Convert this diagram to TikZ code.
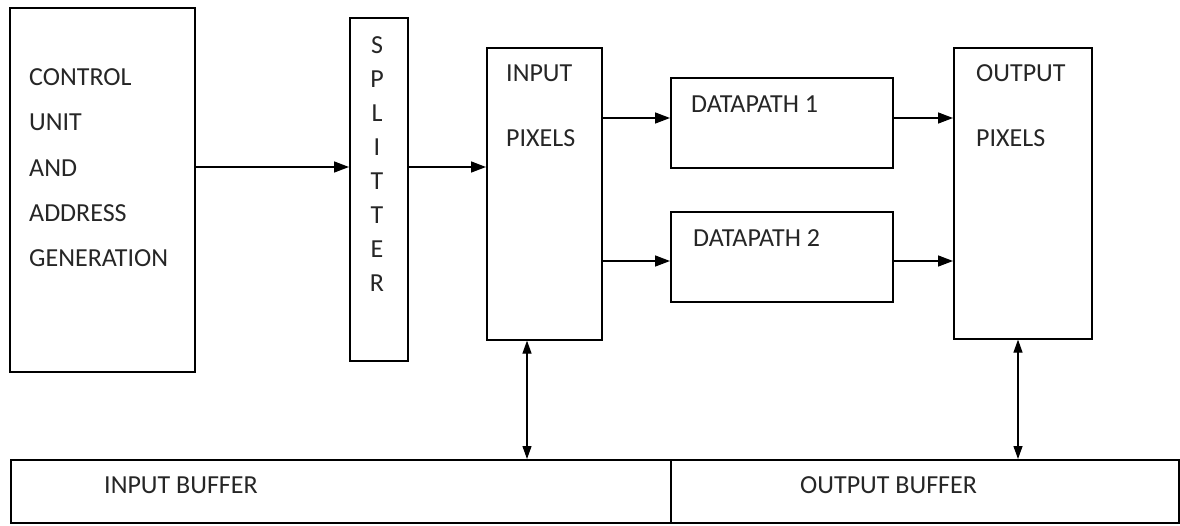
\documentclass[tikz,border=0pt]{standalone}
\usepackage{fontspec}
\setmainfont{Carlito}
\usetikzlibrary{arrows.meta}

\tikzset{
  box/.style={draw, line width=1.6pt, anchor=north west, inner sep=0pt},
  lbl/.style={anchor=west, inner sep=0pt, text=black!85, font=\fontsize{26}{30}\selectfont},
  arr/.style={line width=1.5pt, -{Triangle[length=15pt,width=11pt]}},
  biarr/.style={line width=1.2pt, {Triangle[length=13pt,width=9pt]}-{Triangle[length=13pt,width=9pt]}},
}

\begin{document}
\begin{tikzpicture}[x=1pt, y=-1pt]
\useasboundingbox[fill=white] (0,0) rectangle (1180,525);

% blocks
\node[box, minimum width=185, minimum height=364] (ctrl) at (9,7) {};
\node[box, minimum width=58, minimum height=343] (split) at (349,17) {};
\node[box, minimum width=115, minimum height=292] (inpix) at (486,47) {};
\node[box, minimum width=222, minimum height=90] (dp1) at (670,77) {};
\node[box, minimum width=222, minimum height=90] (dp2) at (670,211) {};
\node[box, minimum width=138, minimum height=291] (outpix) at (953,47) {};
\node[box, minimum width=660, minimum height=63] (inbuf) at (10,459) {};
\node[box, minimum width=508, minimum height=63] (outbuf) at (670,459) {};

% labels
\node[lbl] (ctrl1) at (29,77) {CONTROL};
\node[lbl] (ctrl2) at (29,122) {UNIT};
\node[lbl] (ctrl3) at (29,168) {AND};
\node[lbl] (ctrl4) at (29,213) {ADDRESS};
\node[lbl] (ctrl5) at (29,258) {GENERATION};
\foreach \ch [count=\i from 0] in {S,P,L,I,T,T,E,R}
  \node[lbl, anchor=center] (split\i) at (377,{45+34*\i}) {\ch};
\node[lbl] (inpix1) at (506,73) {INPUT};
\node[lbl] (inpix2) at (506,138) {PIXELS};
\node[lbl] (dp1txt) at (691,104) {DATAPATH 1};
\node[lbl] (dp2txt) at (693,238) {DATAPATH 2};
\node[lbl] (outpix1) at (976,73) {OUTPUT};
\node[lbl] (outpix2) at (976,138) {PIXELS};
\node[lbl] (inbuftxt) at (104,485) {INPUT BUFFER};
\node[lbl] (outbuftxt) at (800,485) {OUTPUT BUFFER};

% rows and columns of the connectors
\coordinate (r0) at (0,167);
\coordinate (r1) at (0,118);
\coordinate (r2) at (0,261);
\coordinate (c1) at (527,0);
\coordinate (c2) at (1018,0);

\draw[arr] (ctrl.east |- r0) -- (split.west |- r0);
\draw[arr] (split.east |- r0) -- (inpix.west |- r0);
\draw[arr] (inpix.east |- r1) -- (dp1.west |- r1);
\draw[arr] (inpix.east |- r2) -- (dp2.west |- r2);
\draw[arr] (dp1.east |- r1) -- (outpix.west |- r1);
\draw[arr] (dp2.east |- r2) -- (outpix.west |- r2);
\draw[biarr] (inpix.south -| c1) -- (inbuf.north -| c1);
\draw[biarr] (outpix.south -| c2) -- (outbuf.north -| c2);

\end{tikzpicture}
\end{document}
